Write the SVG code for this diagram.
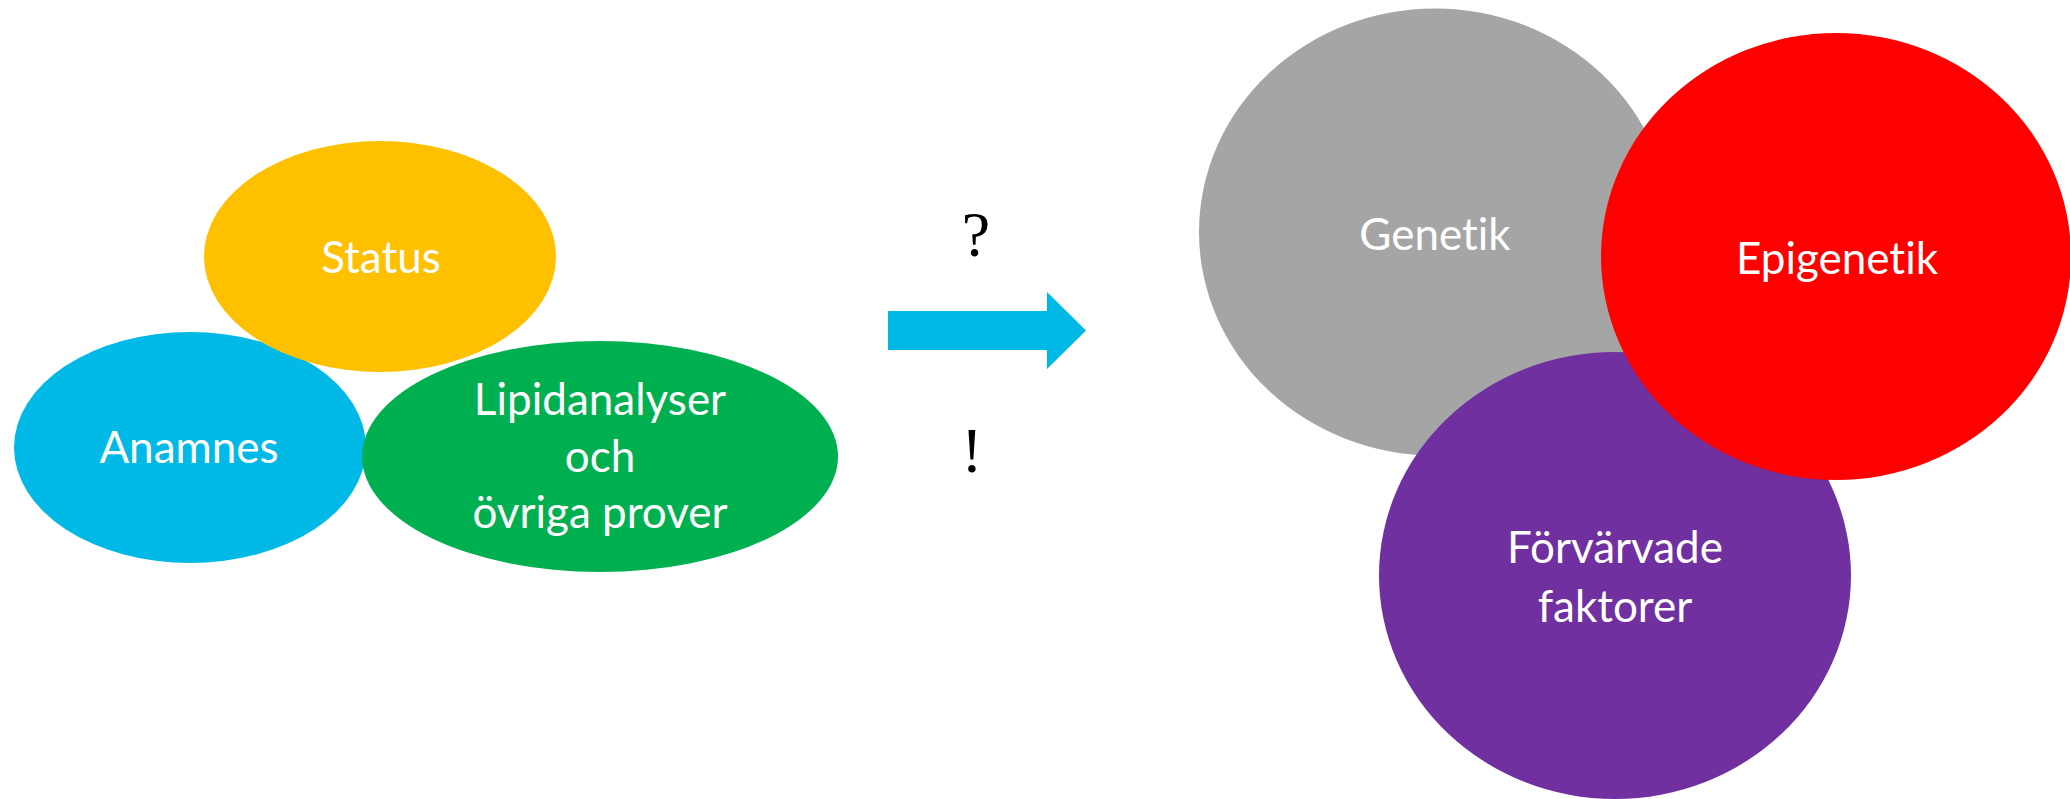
<svg xmlns="http://www.w3.org/2000/svg" width="2070" height="799" viewBox="0 0 2070 799">
  <style>
    .lbl { font-family: Lato, "Open Sans", "Liberation Sans", sans-serif; font-size: 44px; fill: #FFFFFF; text-anchor: middle; font-variant-ligatures: none; }
    .mark { font-family: "Liberation Serif", "DejaVu Serif", serif; font-size: 64px; fill: #000000; text-anchor: middle; }
  </style>
  <rect width="2070" height="799" fill="#FFFFFF"/>

  <!-- left cluster: sources of information -->
  <g id="anamnes">
    <ellipse cx="190" cy="447.5" rx="176" ry="115.5" fill="#00B9E7"/>
    <text class="lbl" x="189" y="463">Anamnes</text>
  </g>
  <g id="status">
    <ellipse cx="380" cy="256.5" rx="176" ry="115.5" fill="#FFC000"/>
    <text class="lbl" x="381" y="273">Status</text>
  </g>
  <g id="lipid">
    <ellipse cx="600" cy="456.5" rx="238" ry="115.5" fill="#00B050"/>
    <text class="lbl" x="600" y="415">Lipidanalyser</text>
    <text class="lbl" x="600" y="472">och</text>
    <text class="lbl" x="600" y="528">övriga prover</text>
  </g>

  <!-- connector: block arrow with question / exclamation marks -->
  <g id="connectors">
    <polygon points="888,311 1047,311 1047,292 1086,330.5 1047,369 1047,350 888,350" fill="#00B9E7"/>
    <text class="mark" x="976" y="256">?</text>
    <text class="mark" x="972" y="472">!</text>
  </g>

  <!-- right cluster: underlying causes -->
  <g id="genetik">
    <ellipse cx="1435" cy="232" rx="236" ry="223.5" fill="#A5A5A5"/>
    <text class="lbl" x="1435" y="250">Genetik</text>
  </g>
  <g id="forvarvade">
    <ellipse cx="1615" cy="575.5" rx="236" ry="223.5" fill="#7030A0"/>
    <text class="lbl" x="1615" y="563">Förvärvade</text>
    <text class="lbl" x="1615" y="622">faktorer</text>
  </g>
  <g id="epigenetik">
    <ellipse cx="1836" cy="256.5" rx="235" ry="223.5" fill="#FF0000"/>
    <text class="lbl" x="1837" y="274">Epigenetik</text>
  </g>
</svg>
